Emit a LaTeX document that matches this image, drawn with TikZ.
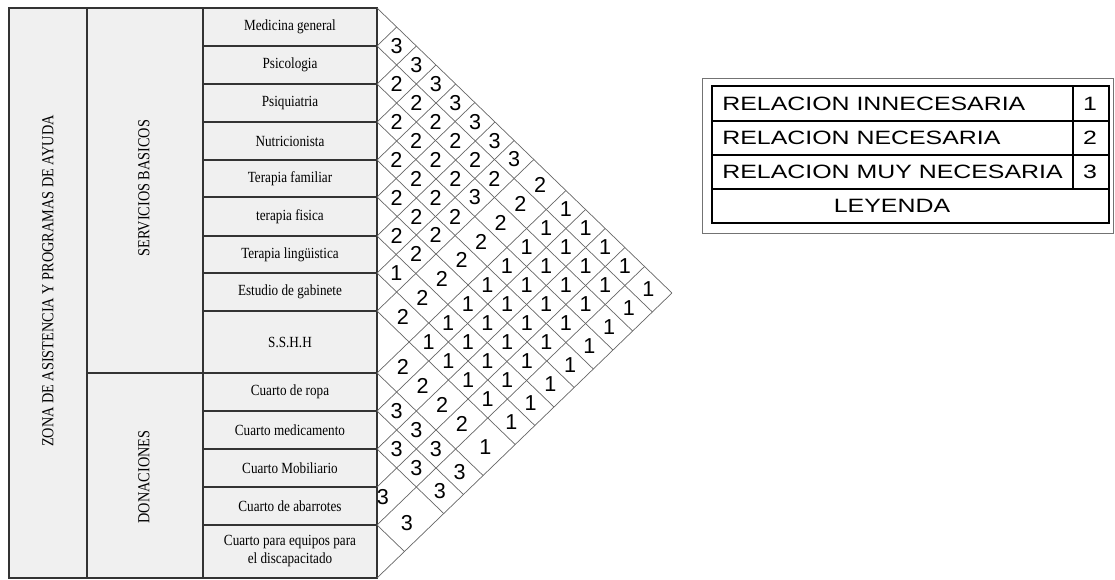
\documentclass[tikz,border=0pt]{standalone}
\usepackage{fontspec}
\setmainfont{Liberation Serif}
\newfontfamily\tablefont[FakeStretch=0.85]{Liberation Serif}
\newfontfamily\numfont{Liberation Sans}
\newfontfamily\legendfont[FakeStretch=1.29]{Liberation Sans}
\usetikzlibrary{positioning}

\begin{document}
\begin{tikzpicture}[
    x=0.5pt, y=-0.5pt,
    cell/.style={draw=black!80, line width=0.55pt, fill=gray!12},
    grid/.style={draw=black!60, line width=0.35pt},
    rowlabel/.style={font=\tablefont\fontsize{7.75}{9}\selectfont, align=center, inner sep=0pt},
    header/.style={font=\tablefont\fontsize{8.4}{10}\selectfont, rotate=90, inner sep=0pt},
    val/.style={font=\numfont\fontsize{10.8}{12}\selectfont, inner sep=0pt},
    legtext/.style={font=\legendfont\fontsize{9.65}{11}\selectfont, inner sep=0pt},
    legline/.style={draw=black, line width=0.6pt}
  ]
  \useasboundingbox (0,0) rectangle (1115,579);

  % tabla de ambientes
  \draw[cell] (9,8) rectangle (87,578);
  \node[header] (zona) at (48,281) {ZONA DE ASISTENCIA Y PROGRAMAS DE AYUDA};
  \draw[cell] (87,8) rectangle (203,373);
  \node[header] (serv) at (144,188) {SERVICIOS BASICOS};
  \draw[cell] (87,373) rectangle (203,578);
  \node[header] (don) at (144,477) {DONACIONES};

  \foreach \ya/\yb/\txt [count=\i] in {8/46/Medicina general, 46/84/Psicologia,
      84/122/Psiquiatria, 122/160/Nutricionista, 160/197/Terapia familiar,
      197/236/terapia fisica, 236/273/Terapia lingüistica, 273/311/Estudio de gabinete,
      311/373/S.S.H.H, 373/411/Cuarto de ropa, 411/449/Cuarto medicamento,
      449/487/Cuarto Mobiliario, 487/525/Cuarto de abarrotes,
      525/578/{Cuarto para equipos para\\el discapacitado}}
  {
    \draw[cell] (203,\ya) rectangle (377,\yb);
    \node[rowlabel] (r\i) at (290,{(\ya+\yb)/2}) {\txt};
  }

  % matriz de relaciones
  \def\kx{1.035}
  \foreach \b in {8,46,84,122,160,197,236,273,311,373,411,449,487,525,578}
  {
    \ifnum\b<578 \ifnum\b=487 \else
      \draw[grid] (377,\b) -- ({377+\kx*(578-\b)/2},{(578+\b)/2});
    \fi\fi
    \ifnum\b>8
      \draw[grid] (377,\b) -- ({377+\kx*(\b-8)/2},{(\b+8)/2});
    \fi
  }

  \def\rowc{{27,65,103,141,178.5,216.5,254.5,292,342,392,430,468,506,551.5}}
  \foreach \i/\vals in {1/{3,3,3,3,3,3,3,2,1,1,1,1,1}, 2/{2,2,2,2,2,2,2,1,1,1,1,1},
      3/{2,2,2,2,3,2,1,1,1,1,1}, 4/{2,2,2,2,2,1,1,1,1,1}, 5/{2,2,2,2,1,1,1,1,1},
      6/{2,2,2,1,1,1,1,1}, 7/{1,2,1,1,1,1,1}, 8/{2,1,1,1,1,1}, 9/{2,2,2,2,1},
      10/{3,3,3,3}, 11/{3,3,3}}
  {
    \foreach \v [count=\n] in \vals
    {
      \pgfmathtruncatemacro\j{\i+\n}
      \pgfmathsetmacro\ci{\rowc[\i-1]}
      \pgfmathsetmacro\cj{\rowc[\j-1]}
      \node[val] (v\i-\j) at ({377+\kx*(\cj-\ci)/2},{(\ci+\cj)/2}) {\v};
    }
  }
  \node[val] (v12-13) at (383,497) {3};
  \node[val] (v13-14) at (407,523) {3};

  % leyenda
  \draw[draw=black!55, line width=0.5pt] (702,78) rectangle (1113,233);
  \draw[legline] (712,86) rectangle (1109,223);
  \foreach \y in {121,155,189}
    \draw[legline] (712,\y) -- (1109,\y);
  \draw[legline] (1073,86) -- (1073,189);

  \node[legtext, anchor=west] (l1) at (722,103.5) {RELACION INNECESARIA};
  \node[legtext, anchor=west] (l2) at (722,138) {RELACION NECESARIA};
  \node[legtext, anchor=west] (l3) at (722,172) {RELACION MUY NECESARIA};
  \node[legtext] (n1) at (1090,103.5) {1};
  \node[legtext] (n2) at (1090,138) {2};
  \node[legtext] (n3) at (1090,172) {3};
  \node[legtext] (ley) at (892,206) {LEYENDA};
\end{tikzpicture}
\end{document}
